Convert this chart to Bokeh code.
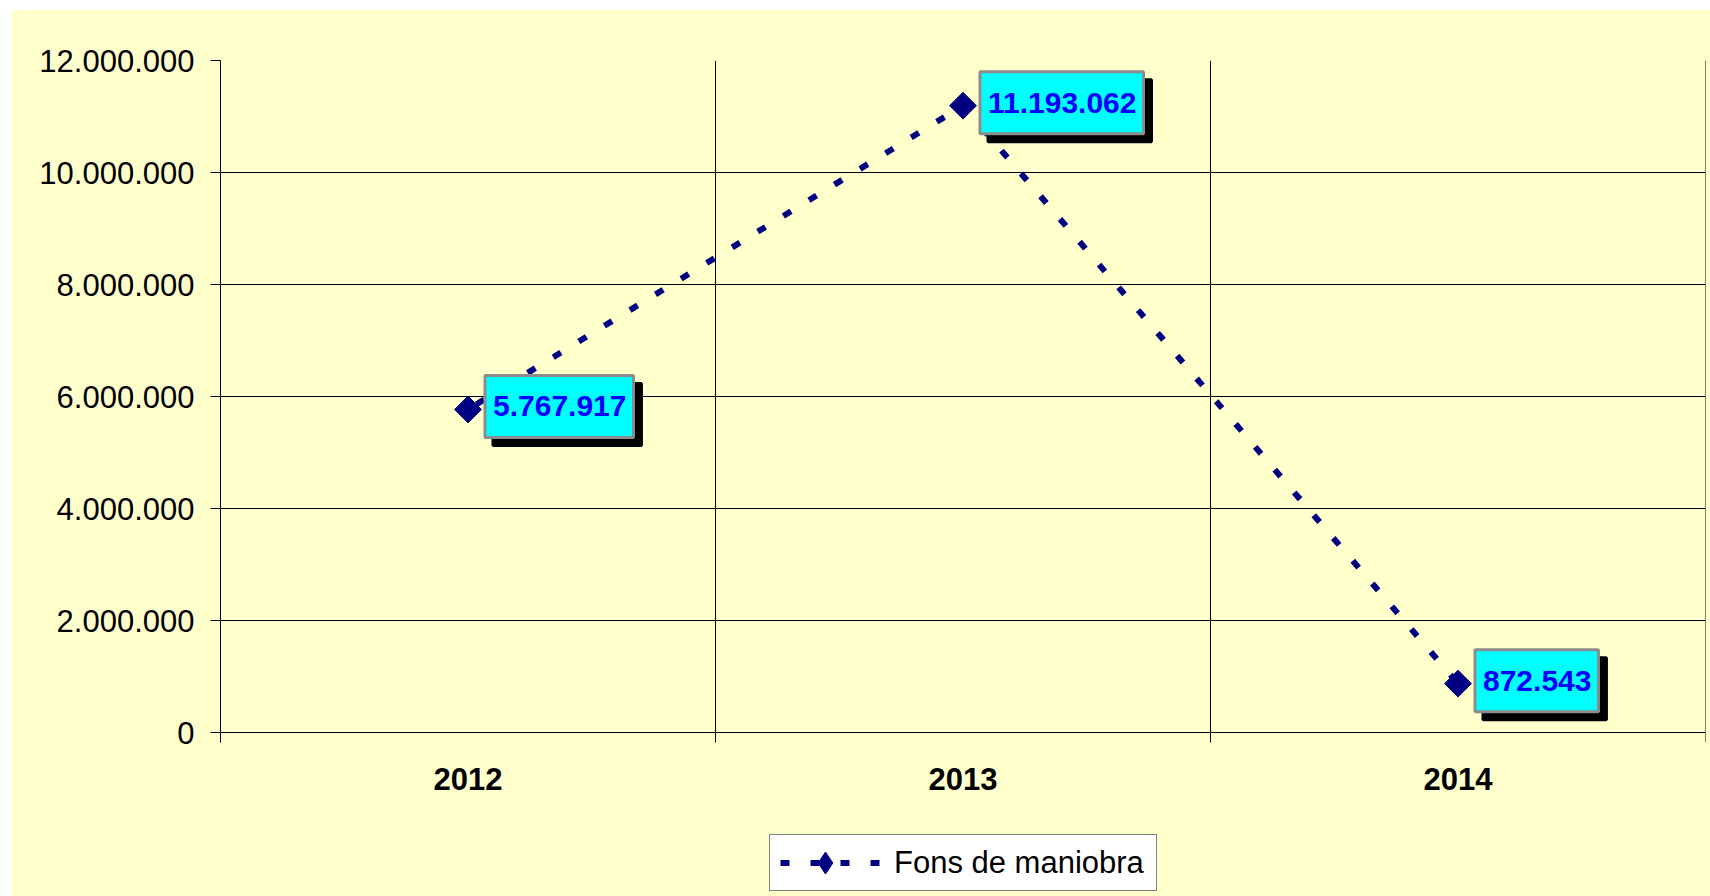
import math
from bokeh.plotting import figure
from bokeh.models import (FactorRange, Range1d, FixedTicker, Legend, LegendItem,
                          CustomJSTickFormatter, ColumnDataSource)
from bokeh.core.properties import value
from bokeh.embed import file_html
from bokeh.resources import INLINE

years = ["2012", "2013", "2014"]
values = [5767917, 11193062, 872543]
y_ticks = [0, 2000000, 4000000, 6000000, 8000000, 10000000, 12000000]
series_name = "Fons de maniobra"
labels = [f"{v:,}".replace(",", ".") for v in values]

FONT = "Liberation Sans"
YELLOW = "#FFFFCC"
NAVY = "#000080"

# layout (pixels)
MARGIN_TOP, MARGIN_LEFT = 9, 11
W, H = 1710 - MARGIN_LEFT, 896 - MARGIN_TOP
LEFT, RIGHT, TOP = 209, 5, 51
PLOT_H = 672          # height of 0..12M
TICK_EXT = 10         # category-boundary ticks below the zero line
FRAME_H = H - TOP     # frame runs to the bottom edge (legend lives inside it)

y_top = y_ticks[-1]
y_ext = y_top * TICK_EXT / PLOT_H
y_min = -y_top * (FRAME_H - PLOT_H) / PLOT_H

src = ColumnDataSource(data=dict(x=years, y=values, label=labels))

p = figure(width=W, height=H, output_backend="svg", toolbar_location=None,
           x_range=FactorRange(*years, range_padding=0),
           y_range=Range1d(y_min, y_top),
           min_border_left=LEFT, min_border_right=RIGHT, min_border_top=TOP,
           min_border_bottom=0, margin=(MARGIN_TOP, 0, 0, MARGIN_LEFT))
p.background_fill_color = YELLOW
p.border_fill_color = YELLOW
p.outline_line_color = None

# y axis
p.yaxis.ticker = FixedTicker(ticks=y_ticks)
p.yaxis.bounds = (-y_ext, y_top)
p.yaxis.formatter = CustomJSTickFormatter(
    code="return Math.round(tick).toString().replace(/\\B(?=(\\d{3})+(?!\\d))/g, '.');")
p.yaxis.major_label_text_font = FONT
p.yaxis.major_label_text_font_size = "31px"
p.yaxis.major_label_text_color = "black"
p.yaxis.major_label_standoff = 16
p.yaxis.major_tick_out = 10
p.yaxis.major_tick_in = 0
p.yaxis.minor_tick_line_color = None
p.yaxis.axis_line_color = "black"
p.yaxis.major_tick_line_color = "black"
p.ygrid.grid_line_color = "black"
p.ygrid.grid_line_width = 1

# x axis (categories), drawn at the bottom of the boundary ticks
p.xgrid.visible = False
p.xaxis.fixed_location = -y_ext
p.xaxis.axis_line_color = None
p.xaxis.major_tick_line_color = None
p.xaxis.major_tick_out = 0
p.xaxis.major_tick_in = 0
p.xaxis.major_label_text_font = FONT
p.xaxis.major_label_text_font_size = "31px"
p.xaxis.major_label_text_font_style = "bold"
p.xaxis.major_label_text_color = "black"
p.xaxis.major_label_standoff = 25

# category boundaries: vertical lines that extend below the zero line as ticks
bounds = list(range(len(years) + 1))
p.segment(x0=bounds, y0=[-y_ext] * len(bounds), x1=bounds, y1=[y_top] * len(bounds),
          line_color="black", line_width=1)

# series
line_r = p.line(x="x", y="y", source=src, line_color=NAVY, line_width=6,
                line_dash="9 21", line_dash_offset=20)
p.scatter(x="x", y="y", source=src, marker="square", angle=math.pi / 4, size=19,
          fill_color=NAVY, line_color=NAVY)
# diamond shown in the legend (the plotted markers are rotated squares)
legend_marker = p.scatter(x="x", y="y", source=src, marker="diamond", size=22,
                          fill_color=NAVY, line_color=NAVY, visible=False)

# data labels: shadow then box
pad = dict(left=8, right=7, top=21, bottom=21)
p.text(x="x", y="y", text="label", source=src, x_offset=25, y_offset=5,
       text_font=value(FONT), text_font_size="30px", text_font_style="bold",
       text_color="black", text_align="left", text_baseline="middle",
       background_fill_color="black", border_line_color="black", border_line_width=3,
       padding=pad)
p.text(x="x", y="y", text="label", source=src, x_offset=17, y_offset=-3,
       text_font=value(FONT), text_font_size="30px", text_font_style="bold",
       text_color="#0000FF", text_align="left", text_baseline="middle",
       background_fill_color="#00FFFF", border_line_color="#8C8C8C", border_line_width=3,
       padding=pad)

lg = Legend(items=[LegendItem(label=series_name, renderers=[line_r, legend_marker])],
            location=(549, 5), margin=0, padding=0, spacing=0,
            glyph_width=110, glyph_height=55, label_height=55, label_width=262,
            label_standoff=14, label_text_font=FONT, label_text_font_size="31px",
            label_text_color="black", border_line_color="black", border_line_width=1,
            background_fill_color="white", background_fill_alpha=1)
p.add_layout(lg)

open("out.html", "w").write(file_html(p, INLINE))
